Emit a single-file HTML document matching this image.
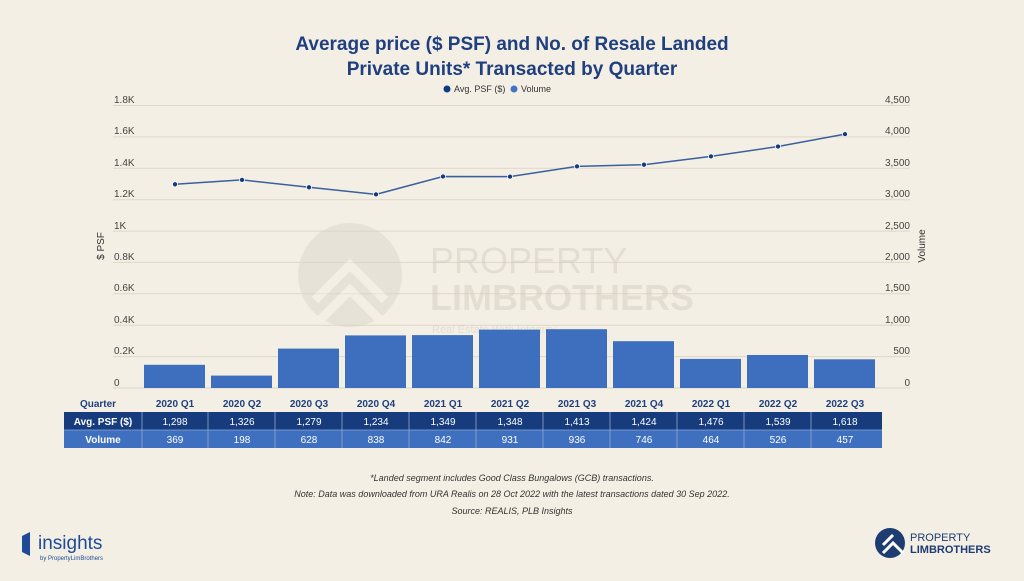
<!DOCTYPE html><html><head><meta charset="utf-8"><style>
body{margin:0;width:1024px;height:576px;background:#f4efe4;font-family:"Liberation Sans",sans-serif;overflow:hidden}
</style></head><body>
<svg width="1024" height="576" xmlns="http://www.w3.org/2000/svg" font-family="Liberation Sans, sans-serif">
<text x="512" y="50" text-anchor="middle" font-size="19" font-weight="bold" fill="#1f3f7f">Average price ($ PSF) and No. of Resale Landed</text>
<text x="512" y="75" text-anchor="middle" font-size="19" font-weight="bold" fill="#1f3f7f">Private Units* Transacted by Quarter</text>
<circle cx="447" cy="89" r="3.5" fill="#123a7c"/><text x="454" y="92" font-size="9" fill="#333">Avg. PSF ($)</text>
<circle cx="514" cy="89" r="3.5" fill="#4174c4"/><text x="521" y="92" font-size="9" fill="#333">Volume</text>
<g stroke="#ddd6c8" stroke-width="1">
<line x1="113" x2="910" y1="105.5" y2="105.5"/><line x1="113" x2="910" y1="136.9" y2="136.9"/><line x1="113" x2="910" y1="168.3" y2="168.3"/><line x1="113" x2="910" y1="199.7" y2="199.7"/><line x1="113" x2="910" y1="231.1" y2="231.1"/><line x1="113" x2="910" y1="262.4" y2="262.4"/><line x1="113" x2="910" y1="293.8" y2="293.8"/><line x1="113" x2="910" y1="325.2" y2="325.2"/><line x1="113" x2="910" y1="356.6" y2="356.6"/><line x1="113" x2="910" y1="388" y2="388"/>
</g>
<g opacity="0.5">
<circle cx="350" cy="275" r="52" fill="#dcd6cb"/>
<path d="M320 320 L350 290 L380 320 M315 300 L350 265 L385 300" stroke="#f4efe4" stroke-width="9" fill="none"/>
<text x="430" y="273" font-size="36" fill="#d3cdc2">PROPERTY</text>
<text x="430" y="310" font-size="36" font-weight="bold" fill="#d3cdc2">LIMBROTHERS</text>
<text x="432" y="333" font-size="11" fill="#d3cdc2">Real Estate With Integrity</text>
</g>
<g font-size="10" fill="#444">
<text x="114" y="103">1.8K</text><text x="114" y="134">1.6K</text><text x="114" y="166">1.4K</text><text x="114" y="197">1.2K</text><text x="114" y="229">1K</text><text x="114" y="260">0.8K</text><text x="114" y="291">0.6K</text><text x="114" y="323">0.4K</text><text x="114" y="354">0.2K</text><text x="114" y="386">0</text>
</g>
<g font-size="10" fill="#444" text-anchor="end">
<text x="910" y="103">4,500</text><text x="910" y="134">4,000</text><text x="910" y="166">3,500</text><text x="910" y="197">3,000</text><text x="910" y="229">2,500</text><text x="910" y="260">2,000</text><text x="910" y="291">1,500</text><text x="910" y="323">1,000</text><text x="910" y="354">500</text><text x="910" y="386">0</text>
</g>
<text transform="translate(104,246) rotate(-90)" text-anchor="middle" font-size="10" fill="#333">$ PSF</text>
<text transform="translate(925,246) rotate(-90)" text-anchor="middle" font-size="10" fill="#333">Volume</text>
<g fill="#3d6fbe">
<rect x="144" y="364.8" width="61" height="23.2"/>
<rect x="211" y="375.6" width="61" height="12.4"/>
<rect x="278" y="348.6" width="61" height="39.4"/>
<rect x="345" y="335.4" width="61" height="52.6"/>
<rect x="412" y="335.1" width="61" height="52.9"/>
<rect x="479" y="329.6" width="61" height="58.4"/>
<rect x="546" y="329.2" width="61" height="58.8"/>
<rect x="613" y="341.2" width="61" height="46.8"/>
<rect x="680" y="358.9" width="61" height="29.1"/>
<rect x="747" y="355.0" width="61" height="33.0"/>
<rect x="814" y="359.3" width="61" height="28.7"/>
</g>
<polyline fill="none" stroke="#3a5f9e" stroke-width="1.5" points="175,184.3 242,179.9 309,187.3 376,194.4 443,176.5 510,176.6 577,166.4 644,164.7 711,156.4 778,146.5 845,134.1"/>
<g fill="#123a7c" stroke="#fff" stroke-width="0.7">
<circle cx="175" cy="184.3" r="2.5"/><circle cx="242" cy="179.9" r="2.5"/><circle cx="309" cy="187.3" r="2.5"/><circle cx="376" cy="194.4" r="2.5"/><circle cx="443" cy="176.5" r="2.5"/><circle cx="510" cy="176.6" r="2.5"/><circle cx="577" cy="166.4" r="2.5"/><circle cx="644" cy="164.7" r="2.5"/><circle cx="711" cy="156.4" r="2.5"/><circle cx="778" cy="146.5" r="2.5"/><circle cx="845" cy="134.1" r="2.5"/>
</g>
<g font-size="10" font-weight="bold" fill="#1f3f7f" text-anchor="middle">
<text x="98" y="407">Quarter</text>
<text x="175" y="407">2020 Q1</text><text x="242" y="407">2020 Q2</text><text x="309" y="407">2020 Q3</text><text x="376" y="407">2020 Q4</text><text x="443" y="407">2021 Q1</text><text x="510" y="407">2021 Q2</text><text x="577" y="407">2021 Q3</text><text x="644" y="407">2021 Q4</text><text x="711" y="407">2022 Q1</text><text x="778" y="407">2022 Q2</text><text x="845" y="407">2022 Q3</text>
</g>
<rect x="64" y="412" width="818" height="18" fill="#173c7e"/>
<rect x="64" y="430" width="818" height="18" fill="#3f70bf"/>
<g stroke="#8ea7cf" stroke-width="0.8">
<line x1="142" x2="142" y1="412" y2="448"/><line x1="208" x2="208" y1="412" y2="448"/><line x1="275" x2="275" y1="412" y2="448"/><line x1="342" x2="342" y1="412" y2="448"/><line x1="409" x2="409" y1="412" y2="448"/><line x1="476" x2="476" y1="412" y2="448"/><line x1="543" x2="543" y1="412" y2="448"/><line x1="610" x2="610" y1="412" y2="448"/><line x1="677" x2="677" y1="412" y2="448"/><line x1="744" x2="744" y1="412" y2="448"/><line x1="811" x2="811" y1="412" y2="448"/><line x1="64" x2="882" y1="430" y2="430"/>
</g>
<g font-size="10" fill="#fff" text-anchor="middle">
<text x="103" y="425" font-weight="bold">Avg. PSF ($)</text>
<text x="175" y="425">1,298</text><text x="242" y="425">1,326</text><text x="309" y="425">1,279</text><text x="376" y="425">1,234</text><text x="443" y="425">1,349</text><text x="510" y="425">1,348</text><text x="577" y="425">1,413</text><text x="644" y="425">1,424</text><text x="711" y="425">1,476</text><text x="778" y="425">1,539</text><text x="845" y="425">1,618</text>
<text x="103" y="443" font-weight="bold">Volume</text>
<text x="175" y="443">369</text><text x="242" y="443">198</text><text x="309" y="443">628</text><text x="376" y="443">838</text><text x="443" y="443">842</text><text x="510" y="443">931</text><text x="577" y="443">936</text><text x="644" y="443">746</text><text x="711" y="443">464</text><text x="778" y="443">526</text><text x="845" y="443">457</text>
</g>
<g font-size="9" font-style="italic" fill="#333" text-anchor="middle">
<text x="512" y="481">*Landed segment includes Good Class Bungalows (GCB) transactions.</text>
<text x="512" y="497">Note: Data was downloaded from URA Realis on 28 Oct 2022 with the latest transactions dated 30 Sep 2022.</text>
<text x="512" y="514">Source: REALIS, PLB Insights</text>
</g>
<path d="M22 536 L30 532 L30 556 L22 552 Z" fill="#1e4b96"/>
<text x="38" y="549" font-size="19" fill="#1e4b96">insights</text>
<text x="40" y="560" font-size="6" fill="#1e4b96">by PropertyLimBrothers</text>
<circle cx="890" cy="543" r="15" fill="#1e3c72"/>
<path d="M883 553 L893 543 L903 553 M883 545 L893 535" stroke="#fff" stroke-width="3" fill="none"/>
<text x="910" y="541" font-size="11" fill="#1e3c72">PROPERTY</text>
<text x="910" y="553" font-size="11" font-weight="bold" fill="#1e3c72">LIMBROTHERS</text>
</svg>
</body></html>
